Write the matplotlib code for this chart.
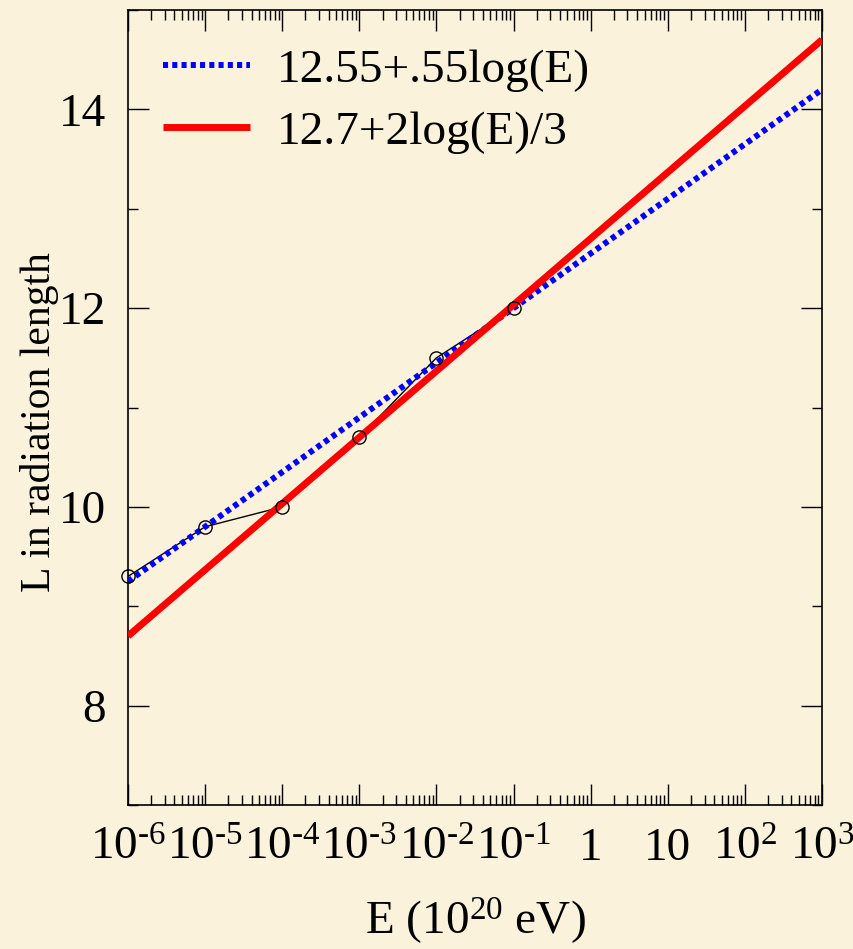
import matplotlib
matplotlib.use("Agg")
import matplotlib.pyplot as plt
from matplotlib.ticker import LogLocator, FixedLocator, NullFormatter, FixedFormatter

plt.rcParams['font.family'] = ['Liberation Serif', 'DejaVu Serif']
plt.rcParams['mathtext.fontset'] = 'custom'
plt.rcParams['mathtext.rm'] = 'Liberation Serif'
plt.rcParams['mathtext.it'] = 'Liberation Serif:italic'
plt.rcParams['mathtext.default'] = 'rm'

# Data
E_data = [1e-6, 1e-5, 1e-4, 1e-3, 1e-2, 1e-1]
L_data = [9.3, 9.8, 10.0, 10.7, 11.5, 12.0]

blue_E = [1e-6, 1e3]
blue_L = [9.25, 14.2]
blue_label = '12.55+.55log(E)'

red_E = [1e-6, 1e3]
red_L = [8.7, 14.7]
red_label = '12.7+2log(E)/3'

xtick_vals = [1e-6, 1e-5, 1e-4, 1e-3, 1e-2, 1e-1, 1, 10, 1e2, 1e3]
xtick_labels = [r'$10^{\text{-}6}$', r'$10^{\text{-}5}$', r'$10^{\text{-}4}$', r'$10^{\text{-}3}$',
                r'$10^{\text{-}2}$', r'$10^{\text{-}1}$', '1', '10', r'$10^{2}$', r'$10^{3}$']
ytick_vals = [8, 10, 12, 14]
ytick_labels = ['8', '10', '12', '14']

bg = '#FBF2DC'
fig = plt.figure(figsize=(8.54, 9.49), dpi=100, facecolor=bg)
ax = fig.add_axes([128/854, 1-805/949, (822-128)/854, (805-10)/949])
ax.set_facecolor(bg)

ax.plot(E_data, L_data, color='black', lw=1.0, zorder=2)
ax.plot(blue_E, blue_L, color='#0000FF', lw=4.3, linestyle=(0, (0.85, 0.7)),
        dash_capstyle='butt', label=blue_label, zorder=3)
ax.plot(red_E, red_L, color='#FF0000', lw=5.0, label=red_label, zorder=3,
        solid_capstyle='butt')
ax.plot(E_data, L_data, linestyle='none', marker='o', markersize=9.5,
        markerfacecolor='none', markeredgecolor='black', markeredgewidth=1.0,
        zorder=4, clip_on=False)

ax.set_xscale('log')
ax.set_xlim(1e-6, 1e3)
ax.set_ylim(7, 15)

ax.xaxis.set_major_locator(FixedLocator(xtick_vals))
ax.xaxis.set_major_formatter(FixedFormatter(xtick_labels))
ax.xaxis.set_minor_locator(LogLocator(base=10, subs=range(2, 10), numticks=100))
ax.xaxis.set_minor_formatter(NullFormatter())
ax.yaxis.set_major_locator(FixedLocator(ytick_vals))
ax.yaxis.set_major_formatter(FixedFormatter(ytick_labels))
ax.yaxis.set_minor_locator(FixedLocator([7, 9, 11, 13, 15]))

ax.tick_params(which='both', direction='in', top=True, right=True,
               color='black', width=1.0)
ax.tick_params(which='major', length=15, labelsize=34)
ax.tick_params(which='minor', length=7)
ax.tick_params(axis='x', which='major', pad=16)
ax.tick_params(axis='y', which='major', pad=16)

for s in ax.spines.values():
    s.set_linewidth(1.2)
    s.set_color('black')

ax.set_xlabel(r'E (10$^{20}$ eV)', fontsize=34)
ax.xaxis.set_label_coords(0.5, -0.145)
ax.xaxis.label.set_va('center')
ax.set_ylabel('L in radiation length', fontsize=30)
ax.yaxis.set_label_coords(-0.1, 0.482)

leg = ax.legend(loc='upper left', bbox_to_anchor=(0.05, 0.951), frameon=False,
                fontsize=34, handlelength=1.85, handletextpad=0.57,
                borderpad=0, borderaxespad=0, labelspacing=0.4)

fig.savefig('out.png', dpi=100, facecolor=bg)
